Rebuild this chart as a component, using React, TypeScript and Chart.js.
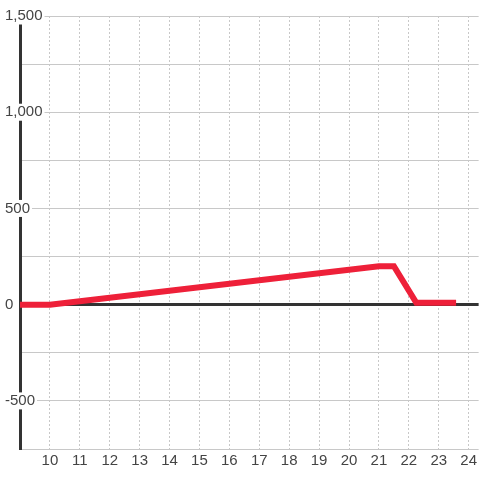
import React, { useEffect, useRef } from "react";
import { Chart, registerables } from "chart.js";

Chart.register(...registerables);

const xValues = [9, 10, 21, 21.5, 22.25, 23.58];
const yValues = [0, 0, 200, 200, 10, 10];
const xMin = 9;
const xMax = 24.333;
const yMin = -750;
const yMax = 1500;

export default function App() {
  const ref = useRef<HTMLCanvasElement>(null);
  useEffect(() => {
    if (!ref.current) return;
    const chart = new Chart(ref.current, {
      type: "line",
      data: {
        datasets: [
          {
            data: xValues.map((x, i) => ({ x, y: yValues[i] })),
            borderColor: "#ee2039",
            borderWidth: 6,
            pointRadius: 0,
            tension: 0,
            fill: false,
            borderJoinStyle: "miter",
            borderCapStyle: "butt",
          },
        ],
      },
      options: {
        responsive: false,
        animation: false,
        layout: { padding: { left: 5, right: 0, top: 16, bottom: 7 } },
        plugins: { legend: { display: false }, tooltip: { enabled: false } },
        scales: {
          x: {
            type: "linear",
            min: xMin,
            max: xMax,
            afterBuildTicks: (axis: any) => {
              axis.ticks = axis.ticks.filter(
                (t: any) => t.value >= 10 && Number.isInteger(t.value)
              );
            },
            ticks: {
              stepSize: 1,
              includeBounds: false,
              color: "#444",
              font: { family: "'Liberation Sans', Arial, sans-serif", size: 15 },
              padding: 3,
              maxRotation: 0,
              autoSkip: false,
            },
            grid: {
              color: "#c8c8c8",
              lineWidth: 1,
              drawTicks: false,
            },
            border: { display: false, dash: [2, 2] },
          },
          y: {
            type: "linear",
            min: yMin,
            max: yMax,
            afterFit: (axis: any) => {
              axis.width = 15;
            },
            ticks: {
              stepSize: 250,
              mirror: true,
              padding: -15,
              color: "#444",
              font: { family: "'Liberation Sans', Arial, sans-serif", size: 15, lineHeight: 1 },
              callback: (v: any) => (Number(v) % 500 === 0 ? Number(v).toLocaleString("en-US") : ""),
              showLabelBackdrop: (ctx: any) => ctx.tick && ctx.tick.value % 500 === 0,
              backdropColor: "#ffffff",
              backdropPadding: { top: 1, bottom: 1, left: 2, right: 2 },
            },
            grid: {
              color: (ctx: any) => (ctx.tick && ctx.tick.value === 0 ? "#333333" : "#c8c8c8"),
              lineWidth: (ctx: any) => (ctx.tick && ctx.tick.value === 0 ? 3 : 1),
              drawTicks: false,
            },
            border: { display: true, color: "#333333", width: 3 },
          },
        },
      },
    });
    return () => chart.destroy();
  }, []);
  return (
    <div style={{ position: "absolute", left: 0, top: 0, width: 480, height: 480, background: "#fff" }}>
      <canvas ref={ref} width={480} height={480} />
    </div>
  );
}
